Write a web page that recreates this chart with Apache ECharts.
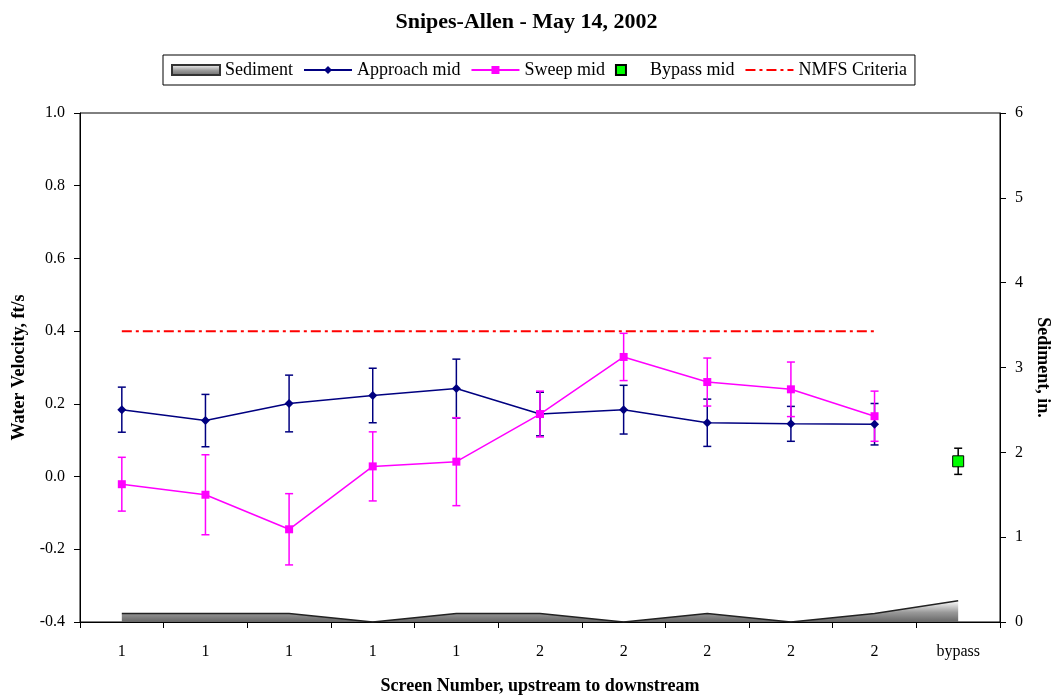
<!DOCTYPE html>
<html>
<head>
<meta charset="utf-8">
<title>Snipes-Allen - May 14, 2002</title>
<script src="https://cdn.jsdelivr.net/npm/echarts@6/dist/echarts.min.js"></script>
<style>
html,body{margin:0;padding:0;background:#fff}
#chart{width:1053px;height:695px}
</style>
</head>
<body>
<div id="chart"></div>
<script>
// screen numbers along the x axis
var screens = ['1','1','1','1','1','2','2','2','2','2','bypass'];
// water velocity (ft/s) and the +/- error
var approachMid = [0.184,0.154,0.201,0.223,0.242,0.172,0.184,0.148,0.145,0.144,null];
var approachErr = [0.062,0.072,0.078,0.075,0.081,0.060,0.067,0.065,0.048,0.057,null];
var sweepMid = [-0.021,-0.050,-0.145,0.028,0.041,0.172,0.329,0.260,0.240,0.166,null];
var sweepErr = [0.074,0.110,0.098,0.095,0.121,0.063,0.065,0.066,0.075,0.069,null];
var bypassMid = [null,null,null,null,null,null,null,null,null,null,0.042];
var bypassErr = [null,null,null,null,null,null,null,null,null,null,0.036];
var nmfsCriteria = [0.4,0.4,0.4,0.4,0.4,0.4,0.4,0.4,0.4,0.4,null];
// sediment depth (in.)
var sediment = [0.1,0.1,0.1,0,0.1,0.1,0,0.1,0,0.1,0.25];

var serif = '"Liberation Serif","Times New Roman",serif';

function errData(vals, errs){
    var out = [];
    for (var i = 0; i < vals.length; i++) {
        if (vals[i] == null) continue;
        out.push([i, vals[i] - errs[i], vals[i] + errs[i]]);
    }
    return out;
}

function errorItem(params, api){
    var x = api.value(0);
    var lo = api.coord([x, api.value(1)]);
    var hi = api.coord([x, api.value(2)]);
    var w = 4;
    var style = {stroke: api.visual('color'), lineWidth: 1.5};
    return {type: 'group', children: [
        {type: 'line', shape: {x1: lo[0], y1: lo[1], x2: hi[0], y2: hi[1]}, style: style},
        {type: 'line', shape: {x1: lo[0]-w, y1: lo[1], x2: lo[0]+w, y2: lo[1]}, style: style},
        {type: 'line', shape: {x1: hi[0]-w, y1: hi[1], x2: hi[0]+w, y2: hi[1]}, style: style}
    ]};
}

var myChart = echarts.init(document.getElementById('chart'));
var sedGrad = new echarts.graphic.LinearGradient(0, 0, 0, 1, [
    {offset: 0, color: '#ffffff'},
    {offset: 0.55, color: '#999999'},
    {offset: 1, color: '#666666'}
]);

var option = {
    animation: false,
    backgroundColor: '#fff',
    title: {
        text: 'Snipes-Allen - May 14, 2002',
        left: 'center',
        top: 6,
        textStyle: {fontFamily: serif, fontSize: 22, fontWeight: 'bold', color: '#000'}
    },
    legend: {
        left: 163,
        top: 55,
        padding: [6, 8],
        itemGap: 10,
        itemWidth: 48,
        itemHeight: 10,
        borderColor: '#000',
        borderWidth: 1,
        textStyle: {fontFamily: serif, fontSize: 18, color: '#000'},
        data: [
            {name: 'Sediment', icon: 'rect'},
            {name: 'Approach mid'},
            {name: 'Sweep mid'},
            {name: 'Bypass mid', icon: 'path://M0,0L10,0L10,10L0,10Z'},
            {name: 'NMFS Criteria', itemStyle: {opacity: 0}}
        ]
    },
    grid: {
        left: 80, right: 53, top: 113, bottom: 73,
        outerBoundsMode: 'none',
        containLabel: false,
        show: true, borderColor: '#000', borderWidth: 1
    },
    xAxis: {
        type: 'category',
        data: screens,
        boundaryGap: true,
        axisLine: {onZero: false, lineStyle: {color: '#000', width: 1}},
        axisTick: {show: true, length: 6, lineStyle: {color: '#000'}},
        axisLabel: {interval: 0, color: '#000', fontFamily: serif, fontSize: 16, margin: 22},
        splitLine: {show: false},
        name: 'Screen Number, upstream to downstream',
        nameLocation: 'middle',
        nameGap: 55,
        nameTextStyle: {fontFamily: serif, fontSize: 18, fontWeight: 'bold', color: '#000'}
    },
    yAxis: [
        {
            type: 'value',
            min: -0.4, max: 1.0, interval: 0.2,
            axisLine: {show: true, lineStyle: {color: '#000', width: 1}},
            axisTick: {show: true, length: 6, lineStyle: {color: '#000'}},
            axisLabel: {color: '#000', fontFamily: serif, fontSize: 16, margin: 15,
                formatter: function(v){ return v.toFixed(1); }},
            splitLine: {show: false},
            name: 'Water Velocity, ft/s',
            nameLocation: 'middle',
            nameGap: 52,
            nameTextStyle: {fontFamily: serif, fontSize: 18, fontWeight: 'bold', color: '#000'}
        },
        {
            type: 'value',
            position: 'right',
            min: 0, max: 6, interval: 1,
            axisLine: {show: true, lineStyle: {color: '#000', width: 1}},
            axisTick: {show: true, length: 6, lineStyle: {color: '#000'}},
            axisLabel: {color: '#000', fontFamily: serif, fontSize: 16, margin: 15},
            splitLine: {show: false},
            name: 'Sediment, in.',
            nameLocation: 'middle',
            nameRotate: -90,
            nameGap: 29,
            nameTextStyle: {fontFamily: serif, fontSize: 18, fontWeight: 'bold', color: '#000'}
        }
    ],
    series: [
        {
            name: 'Sediment',
            type: 'line',
            yAxisIndex: 1,
            data: sediment,
            showSymbol: false,
            symbol: 'none',
            lineStyle: {color: '#222', width: 1.5},
            itemStyle: {color: sedGrad, borderColor: '#333', borderWidth: 1},
            areaStyle: {color: sedGrad, opacity: 1}
        },
        {
            name: 'Approach err',
            type: 'custom',
            renderItem: errorItem,
            itemStyle: {color: '#000080'},
            encode: {x: 0, y: [1, 2]},
            data: errData(approachMid, approachErr)
        },
        {
            name: 'Approach mid',
            type: 'line',
            data: approachMid,
            symbol: 'diamond',
            symbolSize: 9,
            lineStyle: {color: '#000080', width: 1.5},
            itemStyle: {color: '#000080'}
        },
        {
            name: 'Sweep err',
            type: 'custom',
            renderItem: errorItem,
            itemStyle: {color: '#ff00ff'},
            encode: {x: 0, y: [1, 2]},
            data: errData(sweepMid, sweepErr)
        },
        {
            name: 'Sweep mid',
            type: 'line',
            data: sweepMid,
            symbol: 'rect',
            symbolSize: 8,
            lineStyle: {color: '#ff00ff', width: 1.5},
            itemStyle: {color: '#ff00ff'}
        },
        {
            name: 'Bypass err',
            type: 'custom',
            renderItem: errorItem,
            itemStyle: {color: '#000'},
            encode: {x: 0, y: [1, 2]},
            data: errData(bypassMid, bypassErr)
        },
        {
            name: 'Bypass mid',
            type: 'scatter',
            data: bypassMid,
            symbol: 'rect',
            symbolSize: 11,
            itemStyle: {color: '#00ff00', borderColor: '#000', borderWidth: 1, opacity: 1}
        },
        {
            name: 'NMFS Criteria',
            type: 'line',
            data: nmfsCriteria,
            symbol: 'none',
            lineStyle: {color: '#ff0000', width: 2, type: [10, 4, 3, 4]},
            itemStyle: {color: '#ff0000'}
        }
    ]
};

myChart.setOption(option);
</script>
</body>
</html>
